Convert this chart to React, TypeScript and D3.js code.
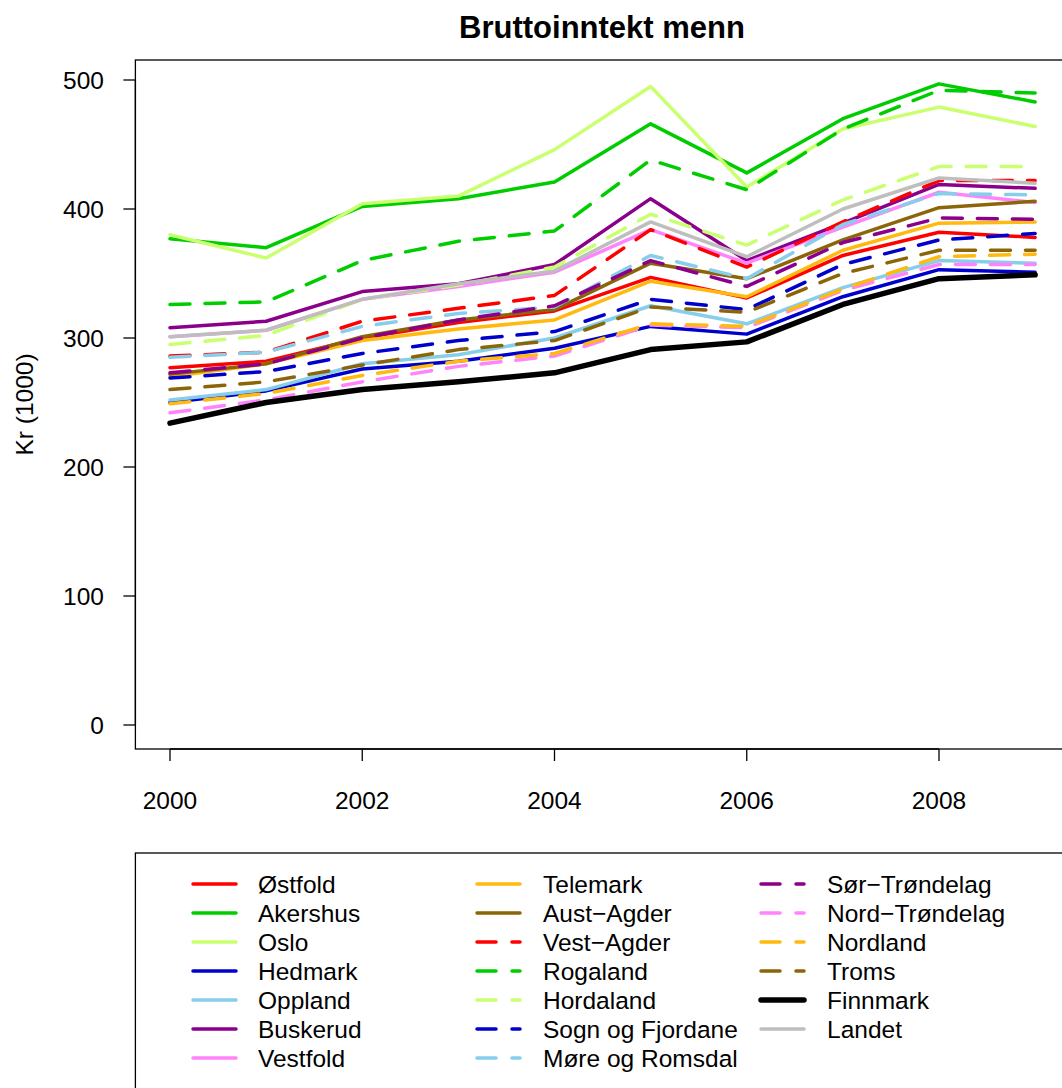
import * as d3 from "d3";

const years = [2000, 2001, 2002, 2003, 2004, 2005, 2006, 2007, 2008, 2009];
const yTicks = [0, 100, 200, 300, 400, 500];
const xTicks = [2000, 2002, 2004, 2006, 2008];

const ostfold = [277, 282, 300, 312, 321, 347, 331, 364, 382, 378];
const akershus = [377, 370, 402, 408, 421, 466, 428, 470, 497, 483];
const oslo = [380, 362, 404, 410, 446, 495, 417, 462, 479, 464];
const hedmark = [250, 259, 276, 282, 292, 309, 303, 332, 353, 351];
const oppland = [252, 260, 280, 287, 300, 325, 311, 339, 360, 358];
const buskerud = [308, 313, 336, 342, 357, 408, 360, 389, 419, 416];
const vestfold = [301, 306, 330, 340, 351, 384, 358, 386, 413, 405];
const telemark = [270, 280, 298, 307, 314, 344, 332, 368, 389, 390];
const austAgder = [272, 280, 301, 314, 322, 358, 346, 376, 401, 406];
const vestAgder = [286, 289, 313, 323, 333, 384, 355, 390, 422, 422];
const rogaland = [326, 328, 360, 375, 383, 438, 415, 462, 492, 490];
const hordaland = [295, 302, 330, 341, 355, 396, 372, 407, 433, 433];
const sognFjordane = [269, 274, 288, 298, 305, 330, 322, 357, 376, 381];
const moreRomsdal = [285, 289, 309, 319, 324, 364, 346, 388, 412, 411];
const sorTrondelag = [273, 280, 300, 314, 325, 360, 340, 374, 393, 392];
const nordTrondelag = [242, 252, 266, 278, 286, 310, 308, 337, 357, 357];
const nordland = [249, 257, 271, 282, 288, 311, 309, 338, 363, 365];
const troms = [260, 266, 279, 291, 298, 324, 320, 350, 368, 368];
const finnmark = [234, 250, 260, 266, 273, 291, 297, 326, 346, 349];
const landet = [301, 306, 330, 342, 352, 390, 363, 400, 424, 420];

type Series = { name: string; values: number[]; color: string; dashed: boolean; thick?: boolean };

const series: Series[] = [
  { name: "Østfold", values: ostfold, color: "#FF0000", dashed: false },
  { name: "Akershus", values: akershus, color: "#00CD00", dashed: false },
  { name: "Oslo", values: oslo, color: "#CAFF70", dashed: false },
  { name: "Hedmark", values: hedmark, color: "#0000CD", dashed: false },
  { name: "Oppland", values: oppland, color: "#87CEEB", dashed: false },
  { name: "Buskerud", values: buskerud, color: "#8B008B", dashed: false },
  { name: "Vestfold", values: vestfold, color: "#FF83FA", dashed: false },
  { name: "Telemark", values: telemark, color: "#FFB90F", dashed: false },
  { name: "Aust\u2212Agder", values: austAgder, color: "#8B6508", dashed: false },
  { name: "Vest\u2212Agder", values: vestAgder, color: "#FF0000", dashed: true },
  { name: "Rogaland", values: rogaland, color: "#00CD00", dashed: true },
  { name: "Hordaland", values: hordaland, color: "#CAFF70", dashed: true },
  { name: "Sogn og Fjordane", values: sognFjordane, color: "#0000CD", dashed: true },
  { name: "Møre og Romsdal", values: moreRomsdal, color: "#87CEEB", dashed: true },
  { name: "Sør\u2212Trøndelag", values: sorTrondelag, color: "#8B008B", dashed: true },
  { name: "Nord\u2212Trøndelag", values: nordTrondelag, color: "#FF83FA", dashed: true },
  { name: "Nordland", values: nordland, color: "#FFB90F", dashed: true },
  { name: "Troms", values: troms, color: "#8B6508", dashed: true },
  { name: "Finnmark", values: finnmark, color: "#000000", dashed: false, thick: true },
  { name: "Landet", values: landet, color: "#BEBEBE", dashed: false },
];

const W = 1062;
const H = 1088;
const FONT = "'Liberation Sans', Arial, Helvetica, sans-serif";
const FS = 24.5;

export default function App() {
  // plot region
  const x = d3.scaleLinear().domain([2000, 2008]).range([170, 939]);
  const y = d3.scaleLinear().domain([0, 500]).range([725, 80]);
  const boxL = x(1999.64), boxR = x(2009.36), boxT = 60, boxB = 749;

  const line = d3.line<number>().x((_, i) => x(years[i])).y(d => y(d));

  const dash = "20,15";
  const lw = 3.5;

  // legend layout
  const legTop = 853;
  const rowH = 29;
  const firstRow = 884;
  const cols = [
    { lx: 191, tx: 258 },
    { lx: 475, tx: 543 },
    { lx: 759, tx: 827 },
  ];

  return (
    <svg width={W} height={H} style={{ position: "absolute", left: 0, top: 0, background: "#fff" }}
      fontFamily={FONT}>
      <rect x={0} y={0} width={W} height={H} fill="#fff" />
      <text x={602} y={38} textAnchor="middle" fontSize={31} fontWeight="bold">
        Bruttoinntekt menn
      </text>

      {/* lines */}
      {series.map(s => (
        <path key={s.name} d={line(s.values) || ""} fill="none" stroke={s.color}
          strokeWidth={s.thick ? 5.5 : lw} strokeDasharray={s.dashed ? dash : undefined}
          strokeLinecap="round" strokeLinejoin="round" />
      ))}

      {/* box */}
      <rect x={boxL} y={boxT} width={boxR - boxL} height={boxB - boxT} fill="none" stroke="#000" strokeWidth={1.3} />

      {/* y axis */}
      <line x1={boxL} x2={boxL} y1={y(0)} y2={y(500)} stroke="#000" strokeWidth={1.3} />
      {yTicks.map(t => (
        <g key={t}>
          <line x1={boxL - 12} x2={boxL} y1={y(t)} y2={y(t)} stroke="#000" strokeWidth={1.3} />
          <text x={104} y={y(t) + 8.5} textAnchor="end" fontSize={FS}>{t}</text>
        </g>
      ))}
      <text transform={`translate(33,${(boxT + boxB) / 2}) rotate(-90)`} textAnchor="middle" fontSize={FS}>Kr (1000)</text>

      {/* x axis */}
      <line x1={x(2000)} x2={x(2008)} y1={boxB} y2={boxB} stroke="#000" strokeWidth={1.3} />
      {xTicks.map(t => (
        <g key={t}>
          <line x1={x(t)} x2={x(t)} y1={boxB} y2={boxB + 12} stroke="#000" strokeWidth={1.3} />
          <text x={x(t)} y={809} textAnchor="middle" fontSize={FS}>{t}</text>
        </g>
      ))}

      {/* legend */}
      <rect x={boxL} y={legTop} width={boxR - boxL} height={H - legTop + 20} fill="none" stroke="#000" strokeWidth={1.3} />
      {series.map((s, i) => {
        const c = cols[Math.floor(i / 7)];
        const r = i % 7;
        const yy = firstRow + r * rowH;
        return (
          <g key={s.name}>
            <line x1={c.lx + 2} x2={c.lx + 45} y1={yy} y2={yy} stroke={s.color}
              strokeWidth={s.thick ? 5.5 : lw} strokeDasharray={s.dashed ? "19,16" : undefined}
              strokeLinecap="round" />
            <text x={c.tx} y={yy + 8.5} fontSize={FS}>{s.name}</text>
          </g>
        );
      })}
    </svg>
  );
}
